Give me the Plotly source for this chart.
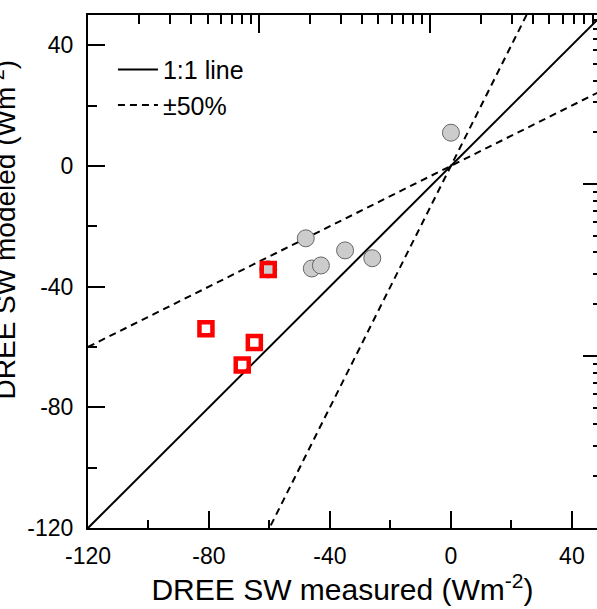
import math
import plotly.graph_objects as go

# ---- data ----
ref_x = [-120, 50]                      # extent of reference lines
ratio_one = 1.0
ratio_factors = [2.0, 0.5]              # the "±50%" lines

grey_x = [0, -48, -35, -26, -46, -43, -60.4]
grey_y = [11, -24, -28, -30.6, -34, -33, -34.3]

red_x = [-60.4, -81, -65, -69]
red_y = [-34.3, -54, -58.5, -66]

x_ticks = [-120, -80, -40, 0, 40]
x_labels = ["-120", "-80", "-40", "0", "40"]
x_minor = [-100, -60, -20, 20]
y_ticks = [-120, -80, -40, 0, 40]
y_labels = ["-120", "-80", "-40", "0", "40"]
y_minor = [-100, -60, -20, 20]
log_major = [1, 10, 100, 1000]
log_minor = [m * d for d in (1, 10, 100) for m in range(2, 10)]

# secondary (log-decade) axes drawn on a linear scale in log10 units
lg_major = [math.log10(v) for v in log_major]
lg_minor = [math.log10(v) for v in log_minor]

FONT = "Liberation Sans, Arial, sans-serif"

fig = go.Figure()

fig.add_trace(go.Scatter(
    x=ref_x, y=[ratio_one * v for v in ref_x], mode="lines",
    line=dict(color="black", width=2), name="1:1 line", hoverinfo="skip"))
for i, f in enumerate(ratio_factors):
    fig.add_trace(go.Scatter(
        x=ref_x, y=[f * v for v in ref_x], mode="lines",
        line=dict(color="black", width=2, dash="7px,5px"),
        name="±50%", showlegend=(i == 0), legendgroup="pm", hoverinfo="skip"))

fig.add_trace(go.Scatter(
    x=grey_x, y=grey_y, mode="markers", showlegend=False,
    marker=dict(symbol="circle", size=17, color="#cccccc",
                line=dict(color="#666666", width=1))))
fig.add_trace(go.Scatter(
    x=red_x, y=red_y, mode="markers", showlegend=False,
    marker=dict(symbol="square-open", size=13, color="#ff0000",
                line=dict(color="#ff0000", width=4.5))))

# invisible trace that activates the secondary axes
fig.add_trace(go.Scatter(x=lg_major, y=lg_major, xaxis="x2", yaxis="y2",
                         mode="markers", marker=dict(opacity=0),
                         showlegend=False, hoverinfo="skip"))

fig.update_layout(
    width=597, height=609,
    margin=dict(l=88, r=0, t=15, b=81, autoexpand=False),
    paper_bgcolor="white", plot_bgcolor="white",
    font=dict(family=FONT, color="black"),
    showlegend=True,
    legend=dict(x=0.049, y=0.938, xanchor="left", yanchor="top",
                bgcolor="rgba(0,0,0,0)", font=dict(size=25, family=FONT),
                tracegroupgap=0, itemwidth=40),
    xaxis=dict(
        range=[-120, 48.3], showgrid=False, zeroline=False, automargin=False,
        showline=True, linecolor="black", linewidth=2,
        tickmode="array", tickvals=x_ticks, ticktext=x_labels, ticks="inside",
        ticklen=17, tickwidth=2, tickcolor="black",
        ticklabelstandoff=6,
        tickfont=dict(size=23, family=FONT),
        minor=dict(tickmode="array", tickvals=x_minor, ticks="inside",
                   ticklen=8, tickwidth=2, tickcolor="black"),
        title=dict(text="DREE SW measured (Wm<sup>-2</sup>)",
                   font=dict(size=30, family=FONT), standoff=3),
    ),
    yaxis=dict(
        range=[-120, 50], showgrid=False, zeroline=False, automargin=False,
        showline=True, linecolor="black", linewidth=2,
        tickmode="array", tickvals=y_ticks, ticktext=y_labels, ticks="inside",
        ticklen=17, tickwidth=2, tickcolor="black",
        ticklabelstandoff=8,
        tickfont=dict(size=23, family=FONT),
        minor=dict(tickmode="array", tickvals=y_minor, ticks="inside",
                   ticklen=9, tickwidth=2, tickcolor="black"),
    ),
    xaxis2=dict(
        overlaying="x", side="top", anchor="y2", range=[0, 2.977], automargin=False,
        showgrid=False, zeroline=False, showticklabels=False,
        showline=True, linecolor="black", linewidth=2,
        tickmode="array", tickvals=lg_major, ticks="inside",
        ticklen=18, tickwidth=2, tickcolor="black", layer="above traces",
        minor=dict(tickmode="array", tickvals=lg_minor, ticks="inside",
                   ticklen=9, tickwidth=2, tickcolor="black"),
    ),
    yaxis2=dict(
        overlaying="y", side="right", anchor="x2", range=[0, 2.983], automargin=False,
        showgrid=False, zeroline=False, showticklabels=False,
        showline=False,
        tickmode="array", tickvals=lg_major, ticks="inside",
        ticklen=14, tickwidth=2, tickcolor="black",
        minor=dict(tickmode="array", tickvals=lg_minor, ticks="inside",
                   ticklen=4, tickwidth=2, tickcolor="black"),
    ),
    annotations=[dict(
        text="DREE SW modeled (Wm<sup>-2</sup>)", textangle=-90,
        xref="paper", yref="paper", x=-0.166, y=0.581,
        xanchor="center", yanchor="middle", showarrow=False,
        font=dict(size=28, family=FONT))],
)

fig.write_html(
    "out.html",
    config={"displayModeBar": False},
    post_script="document.body.style.margin='0';document.body.style.overflow='hidden';",
)
